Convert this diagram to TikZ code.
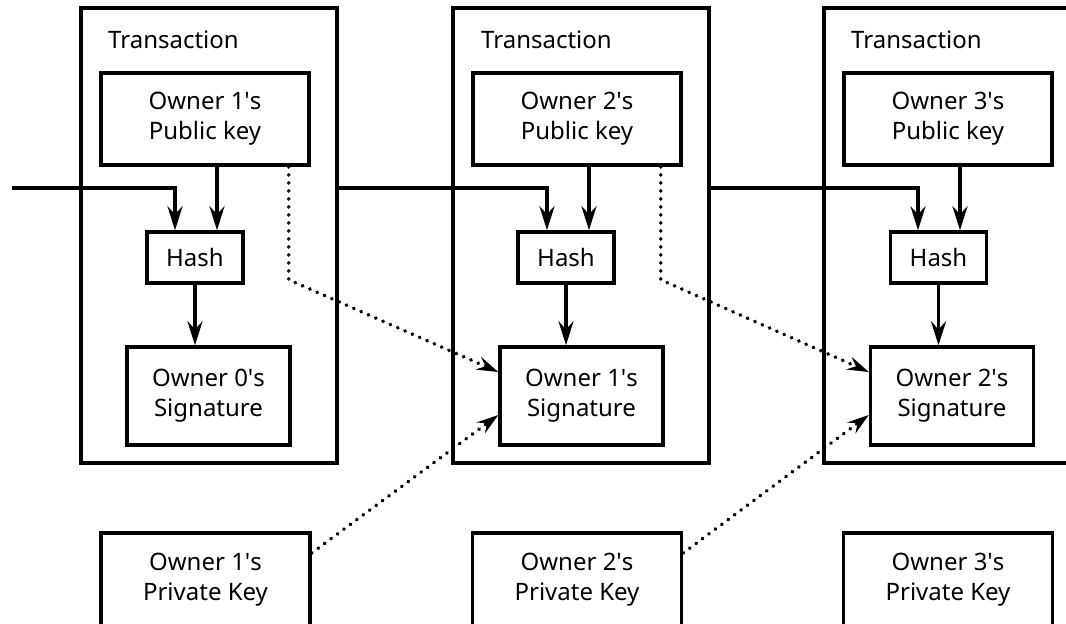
\documentclass[tikz,border=0pt]{standalone}
\usepackage{fontspec}
\setmainfont{Noto Sans}
\usetikzlibrary{arrows.meta}
\newcommand{\ap}{\textquotesingle}
\begin{document}
\begin{tikzpicture}[x=1pt,y=-1pt,
  every node/.style={font=\fontsize{24}{30}\selectfont},
  box/.style={draw,line width=3.4pt,align=center,inner sep=0pt},
  txbox/.style={box,minimum width=256pt,minimum height=455pt},
  pubbox/.style={box,minimum width=208pt,minimum height=92pt},
  hashbox/.style={box,minimum width=96pt,minimum height=51pt},
  sigbox/.style={box,minimum width=163pt,minimum height=98pt},
  privbox/.style={box,minimum width=209pt,minimum height=94pt},
  txlabel/.style={anchor=west,inner sep=0pt},
  arr/.style={line width=3.4pt,-{Stealth[length=24pt,width=15pt,inset=8pt]}},
  dotarr/.style={line width=3.8pt,line cap=round,dash pattern={on 0.3pt off 7.7pt},-{Stealth[length=22pt,width=14pt,inset=8pt,line cap=butt,line width=0pt]}}
]
\useasboundingbox (0,0) rectangle (1066,624);
\clip (0,0) rectangle (1066,624);
\fill[white] (0,0) rectangle (1066,624);

% transaction frames
\node[txbox] (tx1) at (209,235.5) {};
\node[txbox] (tx2) at (581,235.5) {};
\node[txbox] (tx3) at (952,235.5) {};
\node[txlabel] (tl1) at (108,40) {Transaction};
\node[txlabel] (tl2) at (481,40) {Transaction};
\node[txlabel] (tl3) at (851,40) {Transaction};

% public keys
\node[pubbox] (pub1) at (205,119) {Owner 1\ap s\\Public key};
\node[pubbox] (pub2) at (577,119) {Owner 2\ap s\\Public key};
\node[pubbox] (pub3) at (948,119) {Owner 3\ap s\\Public key};

% hashes
\node[hashbox] (h1) at (195,257.5) {Hash};
\node[hashbox] (h2) at (566,257.5) {Hash};
\node[hashbox] (h3) at (938.5,257.5) {Hash};

% signatures
\node[sigbox] (s1) at (208.5,396) {Owner 0\ap s\\Signature};
\node[sigbox] (s2) at (581.5,396) {Owner 1\ap s\\Signature};
\node[sigbox] (s3) at (952,396) {Owner 2\ap s\\Signature};

% private keys
\node[privbox] (pk1) at (205.5,580) {Owner 1\ap s\\Private Key};
\node[privbox] (pk2) at (577,580) {Owner 2\ap s\\Private Key};
\node[privbox] (pk3) at (948,580) {Owner 3\ap s\\Private Key};

\coordinate (in0) at (12,188);

% chain lines into hash
\draw[arr] (in0) -| ([xshift=-20pt]h1.north);
\draw[arr] (tx1.east |- in0) -| ([xshift=-19pt]h2.north);
\draw[arr] (tx2.east |- in0) -| ([xshift=-20.5pt]h3.north);

% public key to hash
\draw[arr] ([xshift=22pt]h1.north |- pub1.south) -- ([xshift=22pt]h1.north);
\draw[arr] ([xshift=23pt]h2.north |- pub2.south) -- ([xshift=23pt]h2.north);
\draw[arr] ([xshift=21.5pt]h3.north |- pub3.south) -- ([xshift=21.5pt]h3.north);

% hash to signature
\draw[arr] (h1.south) -- (h1.south |- s1.north);
\draw[arr] (h2.south) -- (h2.south |- s2.north);
\draw[arr] (h3.south) -- (h3.south |- s3.north);

% dotted: public key to next signature
\draw[dotarr] ([xshift=-22pt]pub1.south east) -- ++(0,113) -- ([yshift=24pt]s2.west);
\draw[dotarr] ([xshift=-22pt]pub2.south east) -- ++(0,113) -- ([yshift=24pt]s3.west);

% dotted: private key to next signature
\draw[dotarr] ([yshift=27pt]pk1.east) -- ([yshift=-19pt]s2.west);
\draw[dotarr] ([yshift=27pt]pk2.east) -- ([yshift=-19pt]s3.west);
\end{tikzpicture}
\end{document}
